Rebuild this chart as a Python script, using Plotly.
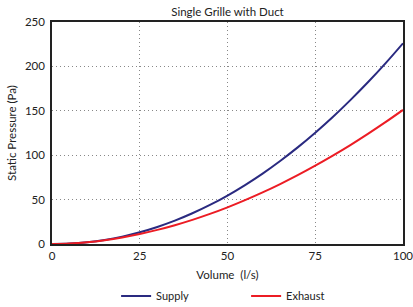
import plotly.graph_objects as go

volume = [0, 5, 10, 15, 20, 25, 30, 35, 40, 45, 50, 55, 60, 65, 70, 75, 80, 85, 90, 95, 100]
supply = [0, 0.5, 2.0, 4.6, 8.3, 13.2, 19.2, 26.3, 34.6, 44.0, 54.6, 66.4, 79.3, 93.5, 108.8, 125.3, 143.0, 162.0, 182.1, 203.4, 226.0]
exhaust = [0, 0.6, 2.0, 4.3, 7.4, 11.3, 15.9, 21.2, 27.2, 33.9, 41.3, 49.4, 58.1, 67.5, 77.5, 88.2, 99.5, 111.4, 124.0, 137.2, 151.0]

x_ticks = [0, 25, 50, 75, 100]
y_ticks = [0, 50, 100, 150, 200, 250]

FONT = "Lato"

fig = go.Figure()
fig.add_trace(go.Scatter(x=volume, y=supply, mode="lines", name="Supply",
                         line=dict(color="#2a2a80", width=2, shape="spline")))
fig.add_trace(go.Scatter(x=volume, y=exhaust, mode="lines", name="Exhaust",
                         line=dict(color="#ec1c24", width=2, shape="spline")))

fig.update_layout(
    width=413, height=307,
    margin=dict(l=52, r=10, t=22, b=63, autoexpand=False),
    paper_bgcolor="white", plot_bgcolor="white",
    font=dict(family=FONT, size=11, color="#222"),
    title=dict(text="Single Grille with Duct", x=0.5, xanchor="center", xref="paper",
               y=1 - 12 / 307, yref="container", yanchor="middle",
               font=dict(size=11.5, color="#222")),
    showlegend=True,
    legend=dict(orientation="h", x=0.553, xanchor="center", xref="paper",
                y=11 / 307, yref="container", yanchor="middle",
                font=dict(size=11), entrywidth=85, entrywidthmode="pixels",
                itemwidth=30),
)
fig.update_xaxes(range=[0, 100], tickvals=x_ticks, ticks="", showgrid=True,
                 gridcolor="#888", griddash="1px,3px", gridwidth=1,
                 showline=True, linecolor="#222", linewidth=1.5, mirror=True,
                 zeroline=False, automargin=True, ticklabeloverflow="allow",
                 title=dict(text="Volume  (l/s)", font=dict(size=11.5), standoff=12),
                 tickfont=dict(size=11.5))
fig.update_yaxes(range=[0, 250], tickvals=y_ticks, ticks="", showgrid=True,
                 gridcolor="#888", griddash="1px,3px", gridwidth=1,
                 showline=True, linecolor="#222", linewidth=1.5, mirror=True,
                 zeroline=False, automargin=False, ticklabeloverflow="allow",
                 ticklabelstandoff=3,
                 title=dict(text="Static Pressure (Pa)", font=dict(size=11.5), standoff=6),
                 tickfont=dict(size=11.5))

fig.write_html("out.html", config={"displayModeBar": False},
               post_script="document.body.style.margin='0';")
